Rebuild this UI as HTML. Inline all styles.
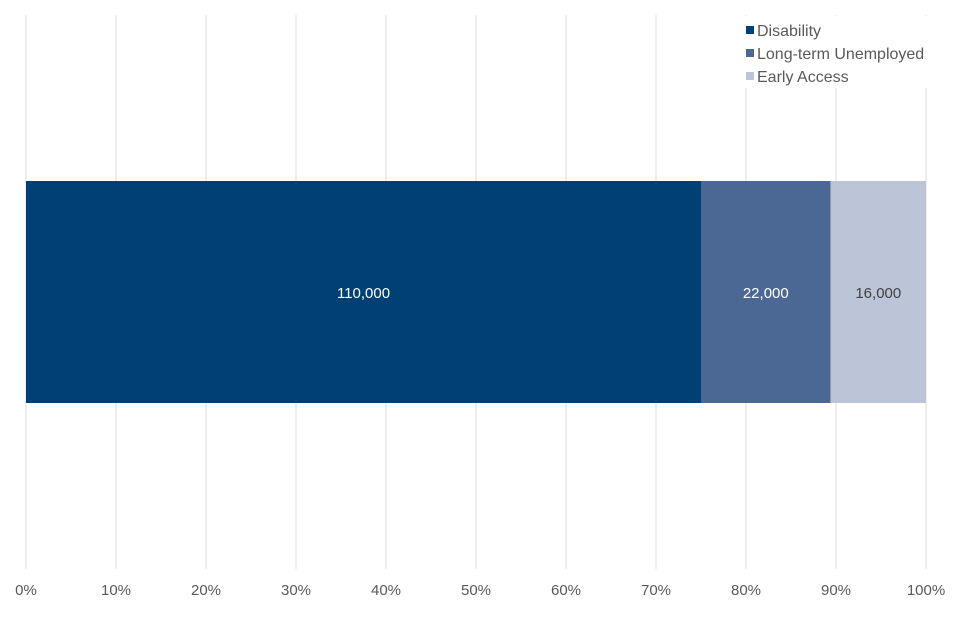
<!DOCTYPE html>
<html><head><meta charset="utf-8"><style>
html,body{margin:0;padding:0;background:#fff;width:960px;height:640px;overflow:hidden}
svg{display:block;font-family:"Liberation Sans",Arial,sans-serif}
</style></head><body>
<svg id="chart" width="960" height="640"></svg>
<script>
const seriesNames = ["Disability","Long-term Unemployed","Early Access"];
const seriesShares = [75.0, 14.4, 10.6];
const seriesLabels = ["110,000","22,000","16,000"];
const tickValues = [0,10,20,30,40,50,60,70,80,90,100];
const tickLabels = ["0%","10%","20%","30%","40%","50%","60%","70%","80%","90%","100%"];

const colors = ["#004074","#4b6895","#bcc5d8"];
const labelColors = ["#ffffff","#ffffff","#404040"];
const NS = "http://www.w3.org/2000/svg";
const svg = document.getElementById("chart");
const x0 = 26, x1 = 926, gTop = 15, gBot = 569, barTop = 181, barBot = 403;
const xScale = v => x0 + (x1 - x0) * v / 100;
function mk(tag, attrs){const e=document.createElementNS(NS,tag);for(const k in attrs)e.setAttribute(k,attrs[k]);svg.appendChild(e);return e;}

tickValues.forEach((v,i)=>{
  const g = mk("line",{x1:xScale(v),x2:xScale(v),y1:gTop,y2:gBot,stroke:"#dcdcdc","stroke-width":1});
  
  
  const t = mk("text",{x:xScale(v),y:595,"text-anchor":"middle","font-size":15,fill:"#595959"});
  t.textContent = tickLabels[i];
  
  
});

let cum = 0;
seriesShares.forEach((s,i)=>{
  const xa = xScale(cum), xb = xScale(cum + s);
  const r = mk("rect",{x:xa,y:barTop,width:xb-xa,height:barBot-barTop,fill:colors[i]});
  
  
  const t = mk("text",{x:(xa+xb)/2,y:(barTop+barBot)/2+6,"text-anchor":"middle","font-size":15,fill:labelColors[i]});
  t.textContent = seriesLabels[i];
  
  
  cum += s;
});

const bg = mk("rect",{x:742,y:16,width:194,height:72,fill:"#ffffff"});


seriesNames.forEach((n,i)=>{
  const y = 30 + i*23;
  const sw = mk("rect",{x:746,y:y-4,width:8,height:8,fill:colors[i]});
  
  
  const t = mk("text",{x:757,y:y+6,"font-size":16,fill:"#595959"});
  t.textContent = n;
  
  
});
</script>
</body></html>
